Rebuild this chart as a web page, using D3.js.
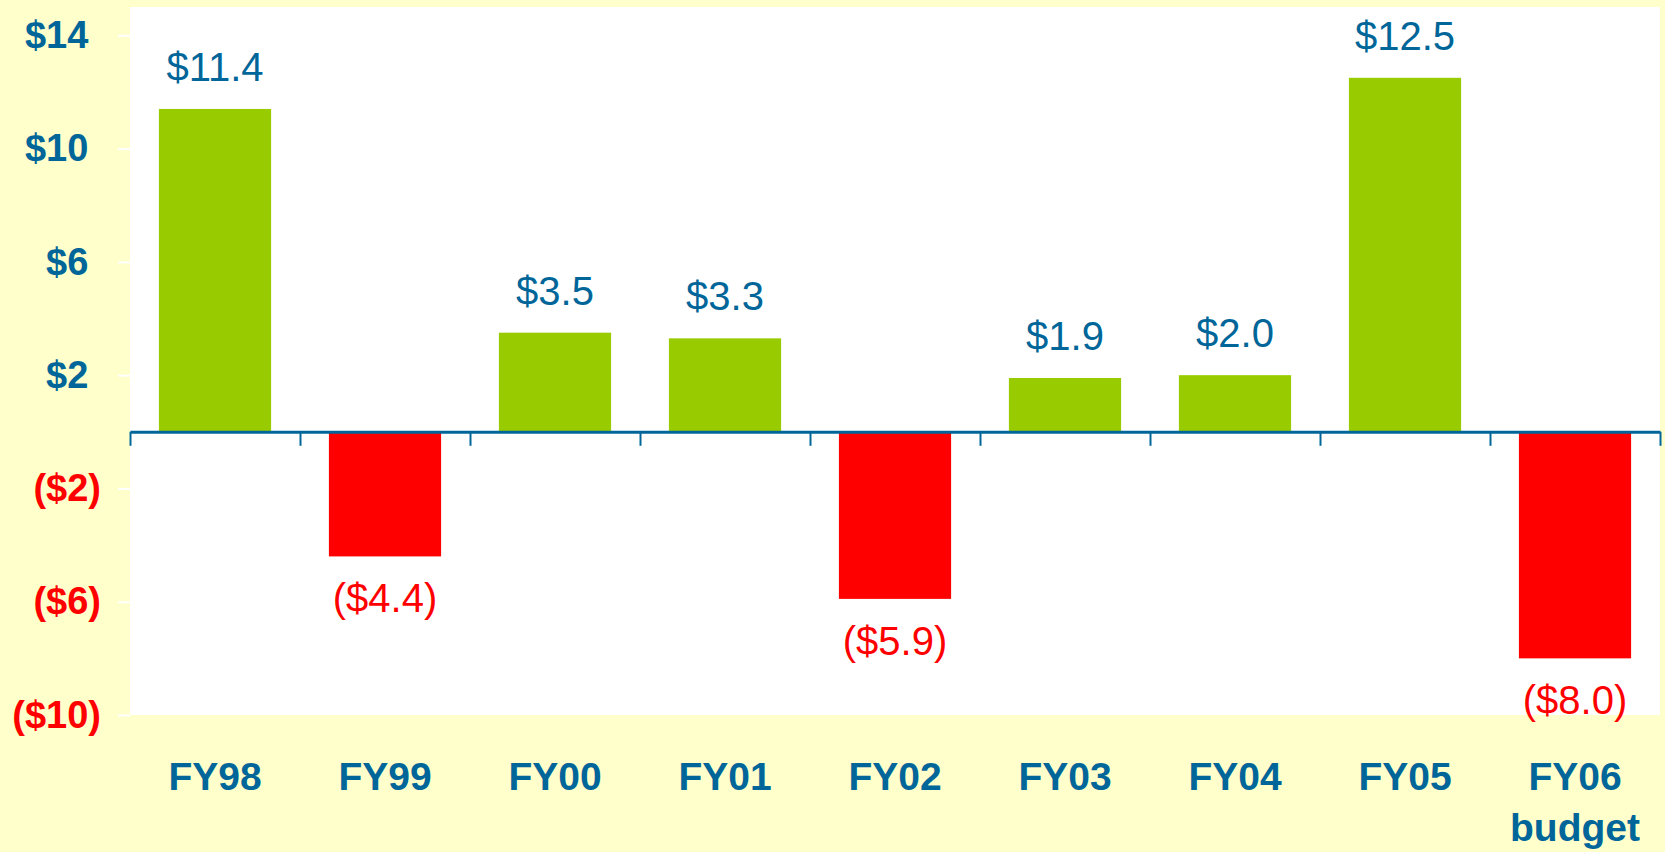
<!DOCTYPE html>
<html>
<head>
    <meta charset="utf-8">
    <title>net income by fiscal year</title>
    <script type="text/javascript" src="https://d3js.org/d3.v7.min.js"></script>
    <style>
      body { margin: 0; background: #ffffcc; }
      svg { display: block; }
      text { font-family: "Liberation Sans", Arial, sans-serif; }
    </style>
</head>
<body>
<script type="text/javascript">

    var categories = ["FY98", "FY99", "FY00", "FY01", "FY02", "FY03", "FY04", "FY05", "FY06 budget"]
    var values = [11.4, -4.4, 3.5, 3.3, -5.9, 1.9, 2.0, 12.5, -8.0]
    var yTicks = [-10, -6, -2, 2, 6, 10, 14]
    var yDomain = [-10, 15]

    var width = 1665
    var height = 852
    // plot box (note: "top" is taken by window.top)
    var plotLeft = 130, plotRight = 1660, plotTop = 7, plotBottom = 715

    var blue = "#006699"
    var green = "#99cc00"
    var red = "#ff0000"

    var svg = d3.select("body").append("svg").attr("width", width).attr("height", height)

    svg.append("rect").attr("width", width).attr("height", height).attr("fill", "#ffffcc")
    svg.append("rect")
        .attr("x", plotLeft).attr("y", plotTop)
        .attr("width", plotRight - plotLeft).attr("height", plotBottom - plotTop)
        .attr("fill", "#ffffff")

    var x = d3.scaleBand().domain(categories).range([plotLeft, plotRight])
        .paddingInner(0.34).paddingOuter(0.17)
    var y = d3.scaleLinear().domain(yDomain).range([plotBottom, plotTop])

    function money(v, digits) {
        var s = "$" + d3.format("." + digits + "f")(Math.abs(v))
        return v < 0 ? "(" + s + ")" : s
    }

    // y axis: white ticks, labels coloured by sign
    var yAxis = svg.append("g")
        .attr("transform", "translate(" + plotLeft + ",0)")
        .call(d3.axisLeft(y).tickValues(yTicks).tickSize(12).tickPadding(17))
    yAxis.select(".domain").remove()
    yAxis.selectAll(".tick line").attr("stroke", "#ffffff").attr("stroke-width", 2)
    yAxis.selectAll(".tick text")
        .attr("font-size", 38).attr("font-weight", "bold")
        .attr("fill", function(d) { return d < 0 ? red : blue })
        .text(null)
        .each(function(d) {
            var t = d3.select(this)
            t.append("tspan").text(money(d, 0))
            if (d > 0) t.append("tspan").attr("fill-opacity", 0).text(")")
        })

    // bars
    svg.selectAll(".bar")
        .data(values)
        .enter()
        .append("rect")
        .attr("class", "bar")
        .attr("x", function(d, i) { return x(categories[i]) })
        .attr("width", x.bandwidth())
        .attr("y", function(d) { return y(Math.max(0, d)) })
        .attr("height", function(d) { return Math.abs(y(d) - y(0)) })
        .attr("fill", function(d) { return d < 0 ? red : green })

    // zero axis with ticks between categories
    var bounds = d3.scaleLinear().domain([0, categories.length]).range([plotLeft, plotRight])
    var xAxis = svg.append("g")
        .attr("transform", "translate(0," + y(0) + ")")
        .call(d3.axisBottom(bounds).tickValues(d3.range(categories.length + 1)).tickSize(14).tickSizeOuter(0).tickFormat(""))
    xAxis.select(".domain").attr("stroke", blue).attr("stroke-width", 3)
    xAxis.selectAll(".tick line").attr("stroke", blue).attr("stroke-width", 2)

    // value labels
    svg.selectAll(".val")
        .data(values)
        .enter()
        .append("text")
        .attr("class", "val")
        .attr("x", function(d, i) { return x(categories[i]) + x.bandwidth() / 2 })
        .attr("y", function(d) { return d < 0 ? y(d) + 56 : y(d) - 28 })
        .attr("text-anchor", "middle")
        .attr("font-size", 40)
        .attr("fill", function(d) { return d < 0 ? red : blue })
        .text(function(d) { return money(d, 1) })

    // category labels
    svg.selectAll(".cat")
        .data(categories)
        .enter()
        .append("text")
        .attr("class", "cat")
        .attr("x", function(d) { return x(d) + x.bandwidth() / 2 })
        .attr("y", 790)
        .attr("text-anchor", "middle")
        .attr("font-size", 39)
        .attr("font-weight", "bold")
        .attr("fill", blue)
        .each(function(d) {
            var t = d3.select(this)
            d.split(" ").forEach(function(part, j) {
                t.append("tspan")
                    .attr("x", t.attr("x"))
                    .attr("dy", j === 0 ? 0 : 51)
                    .text(part)
            })
        })
</script>
</body>
</html>
